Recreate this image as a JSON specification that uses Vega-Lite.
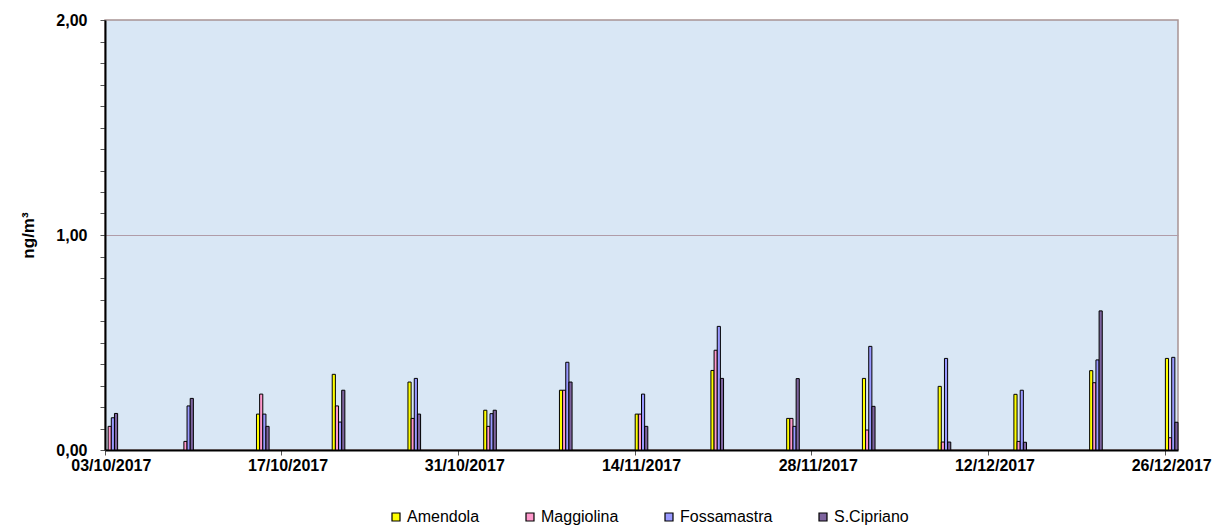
{
  "$schema": "https://vega.github.io/schema/vega-lite/v6.json",
  "width": 1073,
  "height": 430,
  "autosize": "none",
  "padding": {"left": 105, "top": 20, "right": 37, "bottom": 76},
  "background": "white",
  "config": {
    "font": "Liberation Sans",
    "view": {"stroke": "#A89494", "strokeWidth": 1.5, "fill": "#D9E7F5"}
  },
  "data": {
    "values": [
      {"date": "2017-10-03", "station": "Maggiolina", "value": 0.11},
      {"date": "2017-10-03", "station": "Fossamastra", "value": 0.15},
      {"date": "2017-10-03", "station": "S.Cipriano", "value": 0.17},
      {"date": "2017-10-09", "station": "Maggiolina", "value": 0.04},
      {"date": "2017-10-09", "station": "Fossamastra", "value": 0.205},
      {"date": "2017-10-09", "station": "S.Cipriano", "value": 0.24},
      {"date": "2017-10-15", "station": "Amendola", "value": 0.167},
      {"date": "2017-10-15", "station": "Maggiolina", "value": 0.26},
      {"date": "2017-10-15", "station": "Fossamastra", "value": 0.167},
      {"date": "2017-10-15", "station": "S.Cipriano", "value": 0.11},
      {"date": "2017-10-21", "station": "Amendola", "value": 0.352},
      {"date": "2017-10-21", "station": "Maggiolina", "value": 0.205},
      {"date": "2017-10-21", "station": "Fossamastra", "value": 0.13},
      {"date": "2017-10-21", "station": "S.Cipriano", "value": 0.278},
      {"date": "2017-10-27", "station": "Amendola", "value": 0.316},
      {"date": "2017-10-27", "station": "Maggiolina", "value": 0.147},
      {"date": "2017-10-27", "station": "Fossamastra", "value": 0.333},
      {"date": "2017-10-27", "station": "S.Cipriano", "value": 0.167},
      {"date": "2017-11-02", "station": "Amendola", "value": 0.185},
      {"date": "2017-11-02", "station": "Maggiolina", "value": 0.11},
      {"date": "2017-11-02", "station": "Fossamastra", "value": 0.169},
      {"date": "2017-11-02", "station": "S.Cipriano", "value": 0.185},
      {"date": "2017-11-08", "station": "Amendola", "value": 0.278},
      {"date": "2017-11-08", "station": "Maggiolina", "value": 0.278},
      {"date": "2017-11-08", "station": "Fossamastra", "value": 0.408},
      {"date": "2017-11-08", "station": "S.Cipriano", "value": 0.316},
      {"date": "2017-11-14", "station": "Amendola", "value": 0.167},
      {"date": "2017-11-14", "station": "Maggiolina", "value": 0.167},
      {"date": "2017-11-14", "station": "Fossamastra", "value": 0.26},
      {"date": "2017-11-14", "station": "S.Cipriano", "value": 0.11},
      {"date": "2017-11-20", "station": "Amendola", "value": 0.37},
      {"date": "2017-11-20", "station": "Maggiolina", "value": 0.464},
      {"date": "2017-11-20", "station": "Fossamastra", "value": 0.575},
      {"date": "2017-11-20", "station": "S.Cipriano", "value": 0.333},
      {"date": "2017-11-26", "station": "Amendola", "value": 0.147},
      {"date": "2017-11-26", "station": "Maggiolina", "value": 0.147},
      {"date": "2017-11-26", "station": "Fossamastra", "value": 0.11},
      {"date": "2017-11-26", "station": "S.Cipriano", "value": 0.332},
      {"date": "2017-12-02", "station": "Amendola", "value": 0.333},
      {"date": "2017-12-02", "station": "Maggiolina", "value": 0.093},
      {"date": "2017-12-02", "station": "Fossamastra", "value": 0.482},
      {"date": "2017-12-02", "station": "S.Cipriano", "value": 0.203},
      {"date": "2017-12-08", "station": "Amendola", "value": 0.296},
      {"date": "2017-12-08", "station": "Maggiolina", "value": 0.037},
      {"date": "2017-12-08", "station": "Fossamastra", "value": 0.426},
      {"date": "2017-12-08", "station": "S.Cipriano", "value": 0.037},
      {"date": "2017-12-14", "station": "Amendola", "value": 0.259},
      {"date": "2017-12-14", "station": "Maggiolina", "value": 0.04},
      {"date": "2017-12-14", "station": "Fossamastra", "value": 0.278},
      {"date": "2017-12-14", "station": "S.Cipriano", "value": 0.036},
      {"date": "2017-12-20", "station": "Amendola", "value": 0.369},
      {"date": "2017-12-20", "station": "Maggiolina", "value": 0.313},
      {"date": "2017-12-20", "station": "Fossamastra", "value": 0.419},
      {"date": "2017-12-20", "station": "S.Cipriano", "value": 0.647},
      {"date": "2017-12-26", "station": "Amendola", "value": 0.426},
      {"date": "2017-12-26", "station": "Maggiolina", "value": 0.057},
      {"date": "2017-12-26", "station": "Fossamastra", "value": 0.431},
      {"date": "2017-12-26", "station": "S.Cipriano", "value": 0.129}
    ]
  },
  "mark": {"type": "bar", "stroke": "black", "strokeWidth": 1},
  "encoding": {
    "x": {
      "field": "date",
      "type": "ordinal",
      "scale": {
        "type": "band",
        "paddingInner": 0,
        "paddingOuter": 0,
        "domain": [
          "2017-10-03", "2017-10-04", "2017-10-05", "2017-10-06", "2017-10-07", "2017-10-08", "2017-10-09",
          "2017-10-10", "2017-10-11", "2017-10-12", "2017-10-13", "2017-10-14", "2017-10-15", "2017-10-16",
          "2017-10-17", "2017-10-18", "2017-10-19", "2017-10-20", "2017-10-21", "2017-10-22", "2017-10-23",
          "2017-10-24", "2017-10-25", "2017-10-26", "2017-10-27", "2017-10-28", "2017-10-29", "2017-10-30",
          "2017-10-31", "2017-11-01", "2017-11-02", "2017-11-03", "2017-11-04", "2017-11-05", "2017-11-06",
          "2017-11-07", "2017-11-08", "2017-11-09", "2017-11-10", "2017-11-11", "2017-11-12", "2017-11-13",
          "2017-11-14", "2017-11-15", "2017-11-16", "2017-11-17", "2017-11-18", "2017-11-19", "2017-11-20",
          "2017-11-21", "2017-11-22", "2017-11-23", "2017-11-24", "2017-11-25", "2017-11-26", "2017-11-27",
          "2017-11-28", "2017-11-29", "2017-11-30", "2017-12-01", "2017-12-02", "2017-12-03", "2017-12-04",
          "2017-12-05", "2017-12-06", "2017-12-07", "2017-12-08", "2017-12-09", "2017-12-10", "2017-12-11",
          "2017-12-12", "2017-12-13", "2017-12-14", "2017-12-15", "2017-12-16", "2017-12-17", "2017-12-18",
          "2017-12-19", "2017-12-20", "2017-12-21", "2017-12-22", "2017-12-23", "2017-12-24", "2017-12-25",
          "2017-12-26"
        ]
      },
      "axis": {
        "title": null,
        "values": ["2017-10-03", "2017-10-17", "2017-10-31", "2017-11-14", "2017-11-28", "2017-12-12", "2017-12-26"],
        "bandPosition": 0,
        "labelExpr": "slice(datum.value, 8, 10) + '/' + slice(datum.value, 5, 7) + '/' + slice(datum.value, 0, 4)",
        "labelAngle": 0,
        "labelFontSize": 16,
        "labelFontWeight": "bold",
        "labelColor": "black",
        "labelPadding": 2,
        "labelFlush": false,
        "labelOverlap": false,
        "tickSize": 5,
        "tickColor": "#555",
        "domainColor": "black",
        "domainWidth": 2,
        "grid": false
      }
    },
    "xOffset": {
      "field": "station",
      "type": "nominal",
      "sort": ["Amendola", "Maggiolina", "Fossamastra", "S.Cipriano"],
      "scale": {"domain": ["Amendola", "Maggiolina", "Fossamastra", "S.Cipriano"], "paddingInner": 0, "paddingOuter": 0}
    },
    "y": {
      "field": "value",
      "type": "quantitative",
      "stack": null,
      "scale": {"domain": [0, 2], "nice": false},
      "axis": {
        "title": "ng/m³",
        "titleFontSize": 17,
        "titleFontWeight": "bold",
        "titleColor": "black",
        "titleX": -68,
        "values": [0, 0.1, 0.2, 0.3, 0.4, 0.5, 0.6, 0.7, 0.8, 0.9, 1, 1.1, 1.2, 1.3, 1.4, 1.5, 1.6, 1.7, 1.8, 1.9, 2],
        "labelExpr": "(datum.value == 0 || datum.value == 1 || datum.value == 2) ? replace(format(datum.value, '.2f'), '.', ',') : ''",
        "labelFontSize": 16,
        "labelFontWeight": "bold",
        "labelColor": "black",
        "labelPadding": 13,
        "labelFlush": false,
        "labelOverlap": false,
        "tickSize": 5,
        "tickColor": "#555",
        "domainColor": "black",
        "domainWidth": 2,
        "grid": true,
        "gridColor": "#B09CA8",
        "gridOpacity": {"condition": {"test": "datum.value == 1", "value": 1}, "value": 0}
      }
    },
    "color": {
      "field": "station",
      "type": "nominal",
      "sort": ["Amendola", "Maggiolina", "Fossamastra", "S.Cipriano"],
      "scale": {
        "domain": ["Amendola", "Maggiolina", "Fossamastra", "S.Cipriano"],
        "range": ["#FFFF00", "#FF99CC", "#9999FF", "#7E649E"]
      },
      "legend": {
        "title": null,
        "orient": "none",
        "legendX": 283,
        "legendY": 489,
        "direction": "horizontal",
        "symbolType": "square",
        "symbolSize": 64,
        "symbolStrokeColor": "black",
        "symbolStrokeWidth": 1.2,
        "symbolOpacity": 1,
        "labelFontSize": 16,
        "labelColor": "black",
        "labelOffset": 3,
        "columnPadding": 42,
        "padding": 0
      }
    }
  }
}
